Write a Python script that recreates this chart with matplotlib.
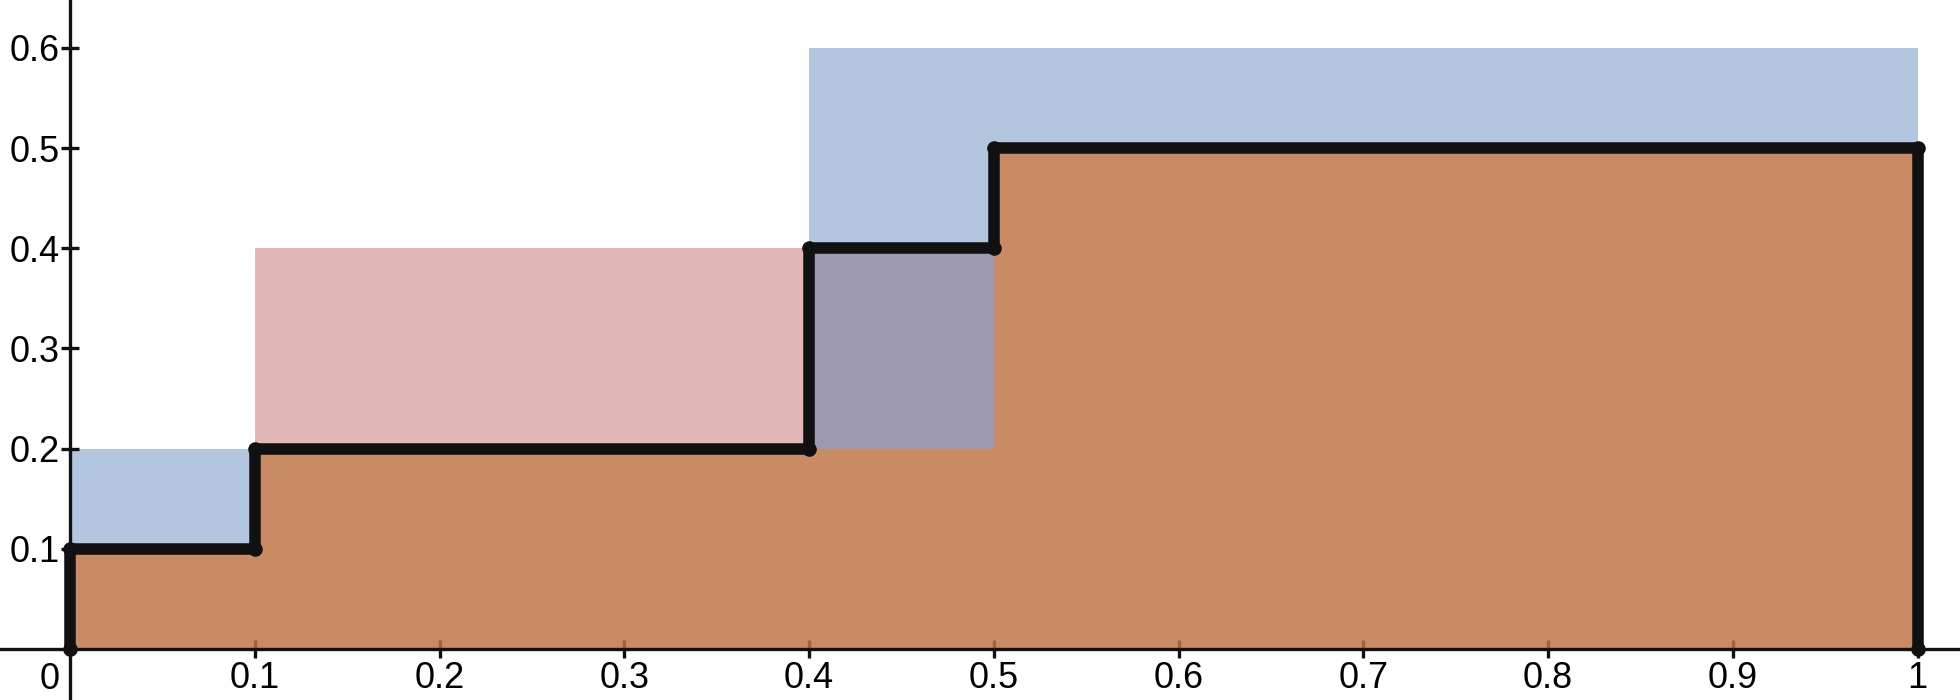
import matplotlib
matplotlib.use("Agg")
import matplotlib.pyplot as plt

# step function breakpoints and levels
step_x = [0, 0.1, 0.4, 0.5, 1.0]
step_y = [0.1, 0.2, 0.4, 0.5]
# top of the orange area on each step
orange_top = [0.1, 0.2, 0.2, 0.5]

# shaded rectangles: (x0, x1, y0, y1)
blue_rects = [(0, 0.1, 0, 0.2), (0.4, 1.0, 0, 0.6)]
red_rects = [(0.1, 0.5, 0, 0.4)]
overlap_rects = [(0.4, 0.5, 0, 0.4)]

x_ticks = [0.1, 0.2, 0.3, 0.4, 0.5, 0.6, 0.7, 0.8, 0.9, 1.0]
x_labels = ["0.1", "0.2", "0.3", "0.4", "0.5", "0.6", "0.7", "0.8", "0.9", "1"]
y_ticks = [0.1, 0.2, 0.3, 0.4, 0.5, 0.6]
y_labels = ["0.1", "0.2", "0.3", "0.4", "0.5", "0.6"]

BLUE = "#b3c6e0"
RED = "#e2b9b6"
PURPLE = "#9e9ab2"
ORANGE = "#c98b63"
TICK_TINT = "#9a6440"
INK = "#111111"

plt.rcParams["font.family"] = ["Liberation Sans", "DejaVu Sans"]

fig = plt.figure(figsize=(19.6, 7), dpi=100)
ax = fig.add_axes([0, 0, 1, 1])
ax.set_xlim(-0.0379, 1.0230)
ax.set_ylim(-0.0509, 0.6479)

for x0, x1, y0, y1 in blue_rects:
    ax.fill_between([x0, x1], y0, y1, color=BLUE, lw=0, zorder=1)
for x0, x1, y0, y1 in red_rects:
    ax.fill_between([x0, x1], y0, y1, color=RED, lw=0, zorder=2)
for x0, x1, y0, y1 in overlap_rects:
    ax.fill_between([x0, x1], y0, y1, color=PURPLE, lw=0, zorder=3)

# orange area under the step curve
for i in range(len(orange_top)):
    ax.fill_between([step_x[i], step_x[i + 1]], 0, orange_top[i],
                    color=ORANGE, lw=0, zorder=4)

# axes lines
ax.axhline(0, color=INK, lw=2.4, zorder=4.5)
ax.axvline(0, color=INK, lw=2.4, zorder=4.5)
# tinted upper halves of x ticks (seen through the orange fill)
ax.vlines(x_ticks[:-1], 0, 0.009, color=TICK_TINT, lw=2.4, zorder=4.4)

# black step outline
px, py = [step_x[0]], [0]
for i in range(len(step_y)):
    px += [step_x[i], step_x[i + 1]]
    py += [step_y[i], step_y[i]]
px.append(step_x[-1])
py.append(0)
ax.plot(px, py, color=INK, lw=8.3, solid_joinstyle="round",
        solid_capstyle="round", zorder=6)
ax.plot(px, py, "o", color=INK, ms=9.5, zorder=7)

for s in ax.spines.values():
    s.set_visible(False)

ax.set_xticks(x_ticks, x_labels)
ax.set_yticks(y_ticks, y_labels)
ax.tick_params(axis="x", direction="out", length=6.5, width=2.4,
               color=INK, labelsize=26, pad=2)
ax.tick_params(axis="y", direction="inout", length=12.5, width=2.4,
               color=INK, labelsize=26, pad=1)
ax.spines["left"].set_position(("data", 0))
ax.spines["bottom"].set_position(("data", 0))

ax.annotate("0", xy=(0, 0), xytext=(-14.5, -9.5), textcoords="offset points",
            ha="center", va="top", fontsize=26)

fig.savefig("out.png", dpi=100)
